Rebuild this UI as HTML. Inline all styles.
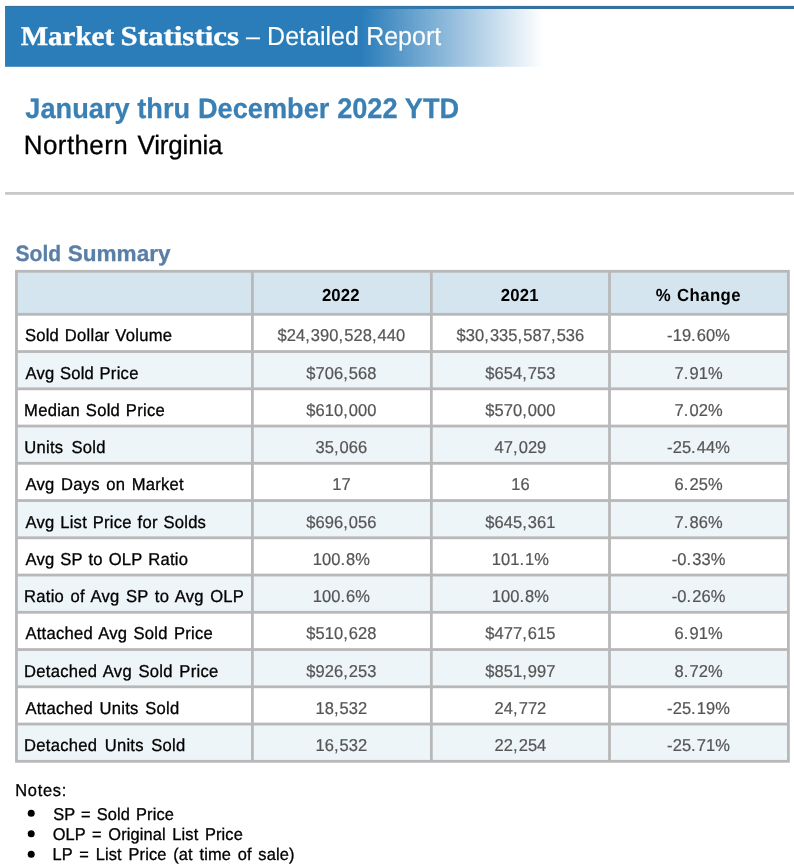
<!DOCTYPE html>
<html><head><meta charset="utf-8"><title>Market Statistics</title>
<style>
html,body{margin:0;padding:0;background:#fff;}
body{width:794px;height:868px;position:relative;overflow:hidden;font-family:"Liberation Sans",sans-serif;}
svg{position:absolute;left:0;top:0;display:block;will-change:transform;}
text{white-space:pre;text-rendering:geometricPrecision;}
.h{font-family:"Liberation Sans",sans-serif;font-weight:bold;font-size:16.8px;fill:#000;text-anchor:middle;letter-spacing:0.4px;word-spacing:0.8px;}
.d{font-family:"Liberation Sans",sans-serif;font-size:16.5px;fill:#555;stroke:#555;stroke-width:0.2px;text-anchor:middle;letter-spacing:0.05px;}
.p{letter-spacing:1.1px;}
</style></head><body>
<svg width="794" height="868" viewBox="0 0 794 868">
<defs><linearGradient id="g" x1="0" y1="0" x2="1" y2="0"><stop offset="0" stop-color="#2b7dba"/><stop offset="0.664" stop-color="#2b7dba"/><stop offset="1" stop-color="#2b7dba" stop-opacity="0"/></linearGradient></defs>
<g id="shapes">
<rect x="5.04" y="5.9" width="789" height="3.1" fill="#36719e"/>
<rect x="5.04" y="7" width="538" height="59.8" fill="url(#g)"/>
<rect x="5.04" y="192" width="789" height="2.8" fill="#c8c8c8"/>
<rect x="15.05" y="269.9" width="774.75" height="492.80" fill="#b8b8b8"/>
<rect x="17.85" y="272.70" width="233.15" height="40.20" fill="#d5e5ef"/>
<rect x="253.80" y="272.70" width="176.15" height="40.20" fill="#d5e5ef"/>
<rect x="432.75" y="272.70" width="175.35" height="40.20" fill="#d5e5ef"/>
<rect x="610.90" y="272.70" width="176.10" height="40.20" fill="#d5e5ef"/>
<rect x="17.85" y="315.70" width="233.15" height="34.45" fill="#ffffff"/>
<rect x="253.80" y="315.70" width="176.15" height="34.45" fill="#ffffff"/>
<rect x="432.75" y="315.70" width="175.35" height="34.45" fill="#ffffff"/>
<rect x="610.90" y="315.70" width="176.10" height="34.45" fill="#ffffff"/>
<rect x="17.85" y="352.95" width="233.15" height="34.45" fill="#eef5f8"/>
<rect x="253.80" y="352.95" width="176.15" height="34.45" fill="#eef5f8"/>
<rect x="432.75" y="352.95" width="175.35" height="34.45" fill="#eef5f8"/>
<rect x="610.90" y="352.95" width="176.10" height="34.45" fill="#eef5f8"/>
<rect x="17.85" y="390.20" width="233.15" height="34.45" fill="#ffffff"/>
<rect x="253.80" y="390.20" width="176.15" height="34.45" fill="#ffffff"/>
<rect x="432.75" y="390.20" width="175.35" height="34.45" fill="#ffffff"/>
<rect x="610.90" y="390.20" width="176.10" height="34.45" fill="#ffffff"/>
<rect x="17.85" y="427.45" width="233.15" height="34.45" fill="#eef5f8"/>
<rect x="253.80" y="427.45" width="176.15" height="34.45" fill="#eef5f8"/>
<rect x="432.75" y="427.45" width="175.35" height="34.45" fill="#eef5f8"/>
<rect x="610.90" y="427.45" width="176.10" height="34.45" fill="#eef5f8"/>
<rect x="17.85" y="464.70" width="233.15" height="34.45" fill="#ffffff"/>
<rect x="253.80" y="464.70" width="176.15" height="34.45" fill="#ffffff"/>
<rect x="432.75" y="464.70" width="175.35" height="34.45" fill="#ffffff"/>
<rect x="610.90" y="464.70" width="176.10" height="34.45" fill="#ffffff"/>
<rect x="17.85" y="501.95" width="233.15" height="34.45" fill="#eef5f8"/>
<rect x="253.80" y="501.95" width="176.15" height="34.45" fill="#eef5f8"/>
<rect x="432.75" y="501.95" width="175.35" height="34.45" fill="#eef5f8"/>
<rect x="610.90" y="501.95" width="176.10" height="34.45" fill="#eef5f8"/>
<rect x="17.85" y="539.20" width="233.15" height="34.45" fill="#ffffff"/>
<rect x="253.80" y="539.20" width="176.15" height="34.45" fill="#ffffff"/>
<rect x="432.75" y="539.20" width="175.35" height="34.45" fill="#ffffff"/>
<rect x="610.90" y="539.20" width="176.10" height="34.45" fill="#ffffff"/>
<rect x="17.85" y="576.45" width="233.15" height="34.45" fill="#eef5f8"/>
<rect x="253.80" y="576.45" width="176.15" height="34.45" fill="#eef5f8"/>
<rect x="432.75" y="576.45" width="175.35" height="34.45" fill="#eef5f8"/>
<rect x="610.90" y="576.45" width="176.10" height="34.45" fill="#eef5f8"/>
<rect x="17.85" y="613.70" width="233.15" height="34.45" fill="#ffffff"/>
<rect x="253.80" y="613.70" width="176.15" height="34.45" fill="#ffffff"/>
<rect x="432.75" y="613.70" width="175.35" height="34.45" fill="#ffffff"/>
<rect x="610.90" y="613.70" width="176.10" height="34.45" fill="#ffffff"/>
<rect x="17.85" y="650.95" width="233.15" height="34.45" fill="#eef5f8"/>
<rect x="253.80" y="650.95" width="176.15" height="34.45" fill="#eef5f8"/>
<rect x="432.75" y="650.95" width="175.35" height="34.45" fill="#eef5f8"/>
<rect x="610.90" y="650.95" width="176.10" height="34.45" fill="#eef5f8"/>
<rect x="17.85" y="688.20" width="233.15" height="34.45" fill="#ffffff"/>
<rect x="253.80" y="688.20" width="176.15" height="34.45" fill="#ffffff"/>
<rect x="432.75" y="688.20" width="175.35" height="34.45" fill="#ffffff"/>
<rect x="610.90" y="688.20" width="176.10" height="34.45" fill="#ffffff"/>
<rect x="17.85" y="725.45" width="233.15" height="34.45" fill="#eef5f8"/>
<rect x="253.80" y="725.45" width="176.15" height="34.45" fill="#eef5f8"/>
<rect x="432.75" y="725.45" width="175.35" height="34.45" fill="#eef5f8"/>
<rect x="610.90" y="725.45" width="176.10" height="34.45" fill="#eef5f8"/>
<circle cx="31.2" cy="813.3" r="3.5" fill="#000000"/>
<circle cx="31.2" cy="833.8" r="3.5" fill="#000000"/>
<circle cx="31.2" cy="854.2" r="3.5" fill="#000000"/>
</g>
<g id="text">
<text transform="translate(0 45.00) scale(1 1.05)"><tspan x="20.65" font-family="Liberation Serif, serif" font-size="26" fill="#ffffff" font-weight="bold" stroke="#ffffff" stroke-width="0.35" textLength="93.54" lengthAdjust="spacingAndGlyphs">Market</tspan> <tspan x="120.55" font-family="Liberation Serif, serif" font-size="26" fill="#ffffff" font-weight="bold" stroke="#ffffff" stroke-width="0.35" textLength="118.49" lengthAdjust="spacingAndGlyphs">Statistics</tspan> <tspan x="245.90" font-family="Liberation Sans, sans-serif" font-size="25" fill="#ffffff" stroke="#ffffff" stroke-width="0.12" word-spacing="0.376">– Detailed Report</tspan></text>
<text font-family="Liberation Sans, sans-serif" font-size="27.2" fill="#3a80b4" font-weight="bold" stroke="#3a80b4" stroke-width="0.25" word-spacing="0.189" transform="translate(25.30 117.60) scale(1.0000 1.04)">January thru December 2022 YTD</text>
<text transform="translate(0 153.70) scale(1 1.025)"><tspan x="23.77" font-family="Liberation Sans, sans-serif" font-size="26" fill="#000000" stroke="#000000" stroke-width="0.3" letter-spacing="0.405">Northern</tspan> <tspan x="137.60" font-family="Liberation Sans, sans-serif" font-size="26" fill="#000000" stroke="#000000" stroke-width="0.3" letter-spacing="-0.202">Virginia</tspan></text>
<text transform="translate(0 260.60) scale(1 1.01)"><tspan x="15.57" font-family="Liberation Sans, sans-serif" font-size="22.0" fill="#5a7fa6" font-weight="bold" stroke="#5a7fa6" stroke-width="0.3" textLength="45.68" lengthAdjust="spacingAndGlyphs">Sold</tspan> <tspan x="67.70" font-family="Liberation Sans, sans-serif" font-size="22.0" fill="#5a7fa6" font-weight="bold" stroke="#5a7fa6" stroke-width="0.3" textLength="102.86" lengthAdjust="spacingAndGlyphs">Summary</tspan></text>
<text class="h" style="letter-spacing:0.15px" transform="translate(340.85 300.8) scale(1 1.04)">2022</text>
<text class="h" style="letter-spacing:0.15px" transform="translate(519.80 300.8) scale(1 1.04)">2021</text>
<text class="h" transform="translate(698.40 300.8) scale(1 1.04)">% Change</text>
<text font-family="Liberation Sans, sans-serif" font-size="16.6" fill="#000000" stroke="#000000" stroke-width="0.3" letter-spacing="0.250" word-spacing="0.858" transform="translate(24.88 341.25) scale(1.0000 1.04)">Sold Dollar Volume</text>
<text class="d" transform="translate(341.38 341.25) scale(1 1.04)">$24<tspan class="p">,</tspan>390<tspan class="p">,</tspan>528<tspan class="p">,</tspan>440</text>
<text class="d" transform="translate(520.42 341.25) scale(1 1.04)">$30<tspan class="p">,</tspan>335<tspan class="p">,</tspan>587<tspan class="p">,</tspan>536</text>
<text class="d" transform="translate(698.55 341.25) scale(1 1.04)">-19<tspan class="p">.</tspan>60%</text>
<text font-family="Liberation Sans, sans-serif" font-size="16.6" fill="#000000" stroke="#000000" stroke-width="0.3" letter-spacing="0.250" word-spacing="0.588" transform="translate(25.40 378.50) scale(1.0000 1.04)">Avg Sold Price</text>
<text class="d" transform="translate(341.38 378.50) scale(1 1.04)">$706<tspan class="p">,</tspan>568</text>
<text class="d" transform="translate(520.42 378.50) scale(1 1.04)">$654<tspan class="p">,</tspan>753</text>
<text class="d" transform="translate(698.55 378.50) scale(1 1.04)">7<tspan class="p">.</tspan>91%</text>
<text font-family="Liberation Sans, sans-serif" font-size="16.6" fill="#000000" stroke="#000000" stroke-width="0.3" letter-spacing="0.250" word-spacing="0.949" transform="translate(24.10 415.75) scale(1.0000 1.04)">Median Sold Price</text>
<text class="d" transform="translate(341.38 415.75) scale(1 1.04)">$610<tspan class="p">,</tspan>000</text>
<text class="d" transform="translate(520.42 415.75) scale(1 1.04)">$570<tspan class="p">,</tspan>000</text>
<text class="d" transform="translate(698.55 415.75) scale(1 1.04)">7<tspan class="p">.</tspan>02%</text>
<text font-family="Liberation Sans, sans-serif" font-size="16.6" fill="#000000" stroke="#000000" stroke-width="0.3" letter-spacing="0.250" word-spacing="3.179" transform="translate(24.36 453.00) scale(1.0000 1.04)">Units Sold</text>
<text class="d" transform="translate(341.38 453.00) scale(1 1.04)">35<tspan class="p">,</tspan>066</text>
<text class="d" transform="translate(520.42 453.00) scale(1 1.04)">47<tspan class="p">,</tspan>029</text>
<text class="d" transform="translate(698.55 453.00) scale(1 1.04)">-25<tspan class="p">.</tspan>44%</text>
<text font-family="Liberation Sans, sans-serif" font-size="16.6" fill="#000000" stroke="#000000" stroke-width="0.3" letter-spacing="0.250" word-spacing="1.628" transform="translate(25.40 490.25) scale(1.0000 1.04)">Avg Days on Market</text>
<text class="d" transform="translate(341.38 490.25) scale(1 1.04)">17</text>
<text class="d" transform="translate(520.42 490.25) scale(1 1.04)">16</text>
<text class="d" transform="translate(698.55 490.25) scale(1 1.04)">6<tspan class="p">.</tspan>25%</text>
<text font-family="Liberation Sans, sans-serif" font-size="16.6" fill="#000000" stroke="#000000" stroke-width="0.3" letter-spacing="0.250" word-spacing="0.880" transform="translate(25.40 527.50) scale(1.0000 1.04)">Avg List Price for Solds</text>
<text class="d" transform="translate(341.38 527.50) scale(1 1.04)">$696<tspan class="p">,</tspan>056</text>
<text class="d" transform="translate(520.42 527.50) scale(1 1.04)">$645<tspan class="p">,</tspan>361</text>
<text class="d" transform="translate(698.55 527.50) scale(1 1.04)">7<tspan class="p">.</tspan>86%</text>
<text font-family="Liberation Sans, sans-serif" font-size="16.6" fill="#000000" stroke="#000000" stroke-width="0.3" letter-spacing="0.250" word-spacing="1.003" transform="translate(25.40 564.75) scale(1.0000 1.04)">Avg SP to OLP Ratio</text>
<text class="d" transform="translate(341.38 564.75) scale(1 1.04)">100<tspan class="p">.</tspan>8%</text>
<text class="d" transform="translate(520.42 564.75) scale(1 1.04)">101<tspan class="p">.</tspan>1%</text>
<text class="d" transform="translate(698.55 564.75) scale(1 1.04)">-0<tspan class="p">.</tspan>33%</text>
<text font-family="Liberation Sans, sans-serif" font-size="16.6" fill="#000000" stroke="#000000" stroke-width="0.3" letter-spacing="0.250" word-spacing="1.611" transform="translate(24.10 602.00) scale(1.0000 1.04)">Ratio of Avg SP to Avg OLP</text>
<text class="d" transform="translate(341.38 602.00) scale(1 1.04)">100<tspan class="p">.</tspan>6%</text>
<text class="d" transform="translate(520.42 602.00) scale(1 1.04)">100<tspan class="p">.</tspan>8%</text>
<text class="d" transform="translate(698.55 602.00) scale(1 1.04)">-0<tspan class="p">.</tspan>26%</text>
<text font-family="Liberation Sans, sans-serif" font-size="16.6" fill="#000000" stroke="#000000" stroke-width="0.3" letter-spacing="0.250" word-spacing="1.379" transform="translate(25.40 639.25) scale(1.0000 1.04)">Attached Avg Sold Price</text>
<text class="d" transform="translate(341.38 639.25) scale(1 1.04)">$510<tspan class="p">,</tspan>628</text>
<text class="d" transform="translate(520.42 639.25) scale(1 1.04)">$477<tspan class="p">,</tspan>615</text>
<text class="d" transform="translate(698.55 639.25) scale(1 1.04)">6<tspan class="p">.</tspan>91%</text>
<text font-family="Liberation Sans, sans-serif" font-size="16.6" fill="#000000" stroke="#000000" stroke-width="0.3" letter-spacing="0.250" word-spacing="1.768" transform="translate(24.10 676.50) scale(1.0000 1.04)">Detached Avg Sold Price</text>
<text class="d" transform="translate(341.38 676.50) scale(1 1.04)">$926<tspan class="p">,</tspan>253</text>
<text class="d" transform="translate(520.42 676.50) scale(1 1.04)">$851<tspan class="p">,</tspan>997</text>
<text class="d" transform="translate(698.55 676.50) scale(1 1.04)">8<tspan class="p">.</tspan>72%</text>
<text font-family="Liberation Sans, sans-serif" font-size="16.6" fill="#000000" stroke="#000000" stroke-width="0.3" letter-spacing="0.250" word-spacing="1.741" transform="translate(25.40 713.75) scale(1.0000 1.04)">Attached Units Sold</text>
<text class="d" transform="translate(341.38 713.75) scale(1 1.04)">18<tspan class="p">,</tspan>532</text>
<text class="d" transform="translate(520.42 713.75) scale(1 1.04)">24<tspan class="p">,</tspan>772</text>
<text class="d" transform="translate(698.55 713.75) scale(1 1.04)">-25<tspan class="p">.</tspan>19%</text>
<text font-family="Liberation Sans, sans-serif" font-size="16.6" fill="#000000" stroke="#000000" stroke-width="0.3" letter-spacing="0.250" word-spacing="2.674" transform="translate(24.10 751.00) scale(1.0000 1.04)">Detached Units Sold</text>
<text class="d" transform="translate(341.38 751.00) scale(1 1.04)">16<tspan class="p">,</tspan>532</text>
<text class="d" transform="translate(520.42 751.00) scale(1 1.04)">22<tspan class="p">,</tspan>254</text>
<text class="d" transform="translate(698.55 751.00) scale(1 1.04)">-25<tspan class="p">.</tspan>71%</text>
<text font-family="Liberation Sans, sans-serif" font-size="16.4" fill="#000000" stroke="#000000" stroke-width="0.3" letter-spacing="0.718" transform="translate(15.32 795.80) scale(1.0000 1.04)">Notes:</text>
<text font-family="Liberation Sans, sans-serif" font-size="16.4" fill="#000000" stroke="#000000" stroke-width="0.3" letter-spacing="0.120" word-spacing="1.348" transform="translate(53.19 819.70) scale(1.0000 1.04)">SP = Sold Price</text>
<text font-family="Liberation Sans, sans-serif" font-size="16.4" fill="#000000" stroke="#000000" stroke-width="0.3" letter-spacing="0.120" word-spacing="1.907" transform="translate(52.63 839.95) scale(1.0000 1.04)">OLP = Original List Price</text>
<text font-family="Liberation Sans, sans-serif" font-size="16.4" fill="#000000" stroke="#000000" stroke-width="0.3" letter-spacing="0.120" word-spacing="2.078" transform="translate(52.62 860.20) scale(1.0000 1.04)">LP = List Price (at time of sale)</text>
</g>
</svg>
</body></html>
